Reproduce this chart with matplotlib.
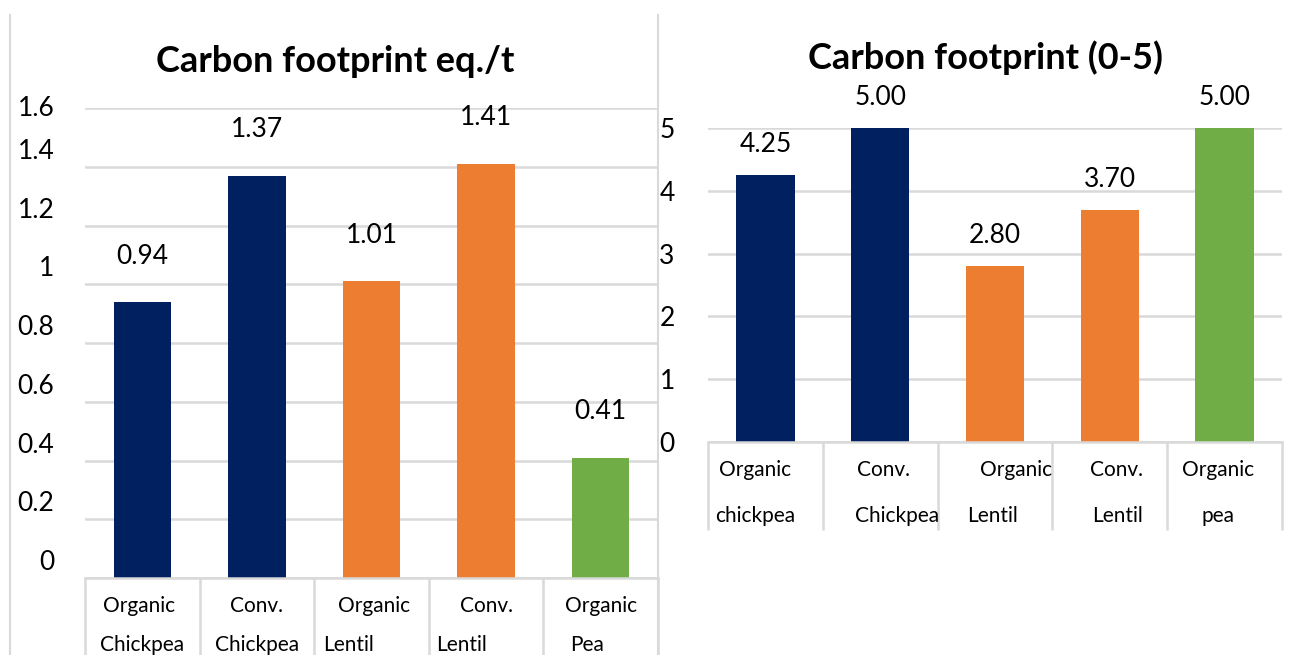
import matplotlib
matplotlib.use("Agg")
import matplotlib.pyplot as plt
from matplotlib.lines import Line2D

plt.rcParams['font.family'] = ['Lato', 'DejaVu Sans']

# data
left_title = "Carbon footprint eq./t"
left_line1 = ["Organic", "Conv.", "Organic", "Conv.", "Organic"]
left_line2 = ["Chickpea", "Chickpea", "Lentil", "Lentil", "Pea"]
left_values = [0.94, 1.37, 1.01, 1.41, 0.41]
left_ticks = [0, 0.2, 0.4, 0.6, 0.8, 1, 1.2, 1.4, 1.6]

right_title = "Carbon footprint (0-5)"
right_line1 = ["Organic", "Conv.", "Organic", "Conv.", "Organic"]
right_line2 = ["chickpea", "Chickpea", "Lentil", "Lentil", "pea"]
right_values = [4.25, 5.00, 2.80, 3.70, 5.00]
right_ticks = [0, 1, 2, 3, 4, 5]

NAVY = "#002060"
ORANGE = "#ED7D31"
GREEN = "#70AD47"
GRID = "#D9D9D9"
bar_colors = [NAVY, NAVY, ORANGE, ORANGE, GREEN]

W, H = 1292, 655
fig = plt.figure(figsize=(W / 100, H / 100), dpi=100)


def px_axes(x0, x1, ytop, ybot):
    return fig.add_axes([x0 / W, 1 - ybot / H, (x1 - x0) / W, (ybot - ytop) / H])


def style(ax, ymax, ticks):
    ax.set_xlim(-0.5, 4.5)
    ax.set_ylim(0, ymax)
    for s in ["left", "right", "top"]:
        ax.spines[s].set_visible(False)
    ax.spines["bottom"].set_color(GRID)
    ax.spines["bottom"].set_linewidth(1.8)
    ax.set_yticks(ticks)
    ax.yaxis.grid(True, color=GRID, linewidth=1.8)
    ax.set_axisbelow(True)
    ax.set_xticks([])
    ax.tick_params(axis="y", length=0)


# ---- left chart ----
axL = px_axes(85, 658, 108, 578)
style(axL, 1.6, left_ticks)
axL.set_yticklabels([])
xs = range(len(left_values))
bars = axL.bar(xs, left_values, width=0.5, color=bar_colors)
for b, v in zip(bars, left_values):
    axL.annotate(f"{v:.2f}", (b.get_x() + b.get_width() / 2, v),
                 xytext=(0, 33), textcoords="offset points",
                 ha="center", va="center", fontsize=19)
# tick labels sit a bit above their gridlines (except the top one)
for t in left_ticks:
    dy = 0 if t == left_ticks[-1] else 11
    axL.annotate(f"{t:g}", (0, t), xycoords=axL.get_yaxis_transform(),
                 xytext=(-22, dy), textcoords="offset points",
                 ha="right", va="center", fontsize=19, annotation_clip=False)
axL.vlines([i - 0.5 for i in range(6)], -77 / 470, 0,
           transform=axL.get_xaxis_transform(), color=GRID, lw=1.8, clip_on=False)
l1_off = [-0.03, 0, 0.02, 0, 0]
l2_off = [0, 0, -0.2, -0.21, -0.12]
for i in xs:
    axL.text(i + l1_off[i], -28 / 470, left_line1[i], transform=axL.get_xaxis_transform(),
             ha="center", va="center", fontsize=15)
    axL.text(i + l2_off[i], -67 / 470, left_line2[i], transform=axL.get_xaxis_transform(),
             ha="center", va="center", fontsize=15)
fig.text(335 / W, 1 - 61 / H, left_title, ha="center", va="center",
         fontsize=26, fontweight="bold")

# ---- right chart ----
axR = px_axes(708, 1282, 128, 442)
style(axR, 5, right_ticks)
axR.set_yticklabels([f"{t:g}" for t in right_ticks], fontsize=19)
axR.tick_params(axis="y", pad=24)
bars = axR.bar(range(len(right_values)), right_values, width=0.51, color=bar_colors)
for b, v in zip(bars, right_values):
    axR.annotate(f"{v:.2f}", (b.get_x() + b.get_width() / 2, v),
                 xytext=(0, 22), textcoords="offset points",
                 ha="center", va="center", fontsize=19)
axR.vlines([i - 0.5 for i in range(6)], -88 / 314, 0,
           transform=axR.get_xaxis_transform(), color=GRID, lw=1.8, clip_on=False)
r1_off = [-0.09, 0.03, 0.18, 0.06, -0.06]
r2_off = [-0.09, 0.15, -0.02, 0.07, -0.06]
for i in range(len(right_values)):
    axR.text(i + r1_off[i], -28 / 314, right_line1[i], transform=axR.get_xaxis_transform(),
             ha="center", va="center", fontsize=15)
    axR.text(i + r2_off[i], -74 / 314, right_line2[i], transform=axR.get_xaxis_transform(),
             ha="center", va="center", fontsize=15)
fig.text(985 / W, 1 - 58 / H, right_title, ha="center", va="center",
         fontsize=26, fontweight="bold")

# chart frame lines
for xp in (10, 658):
    fig.add_artist(Line2D([xp / W, xp / W], [1 - 15 / H, 0], color=GRID, lw=1.5))

fig.savefig("out.png", dpi=100)
